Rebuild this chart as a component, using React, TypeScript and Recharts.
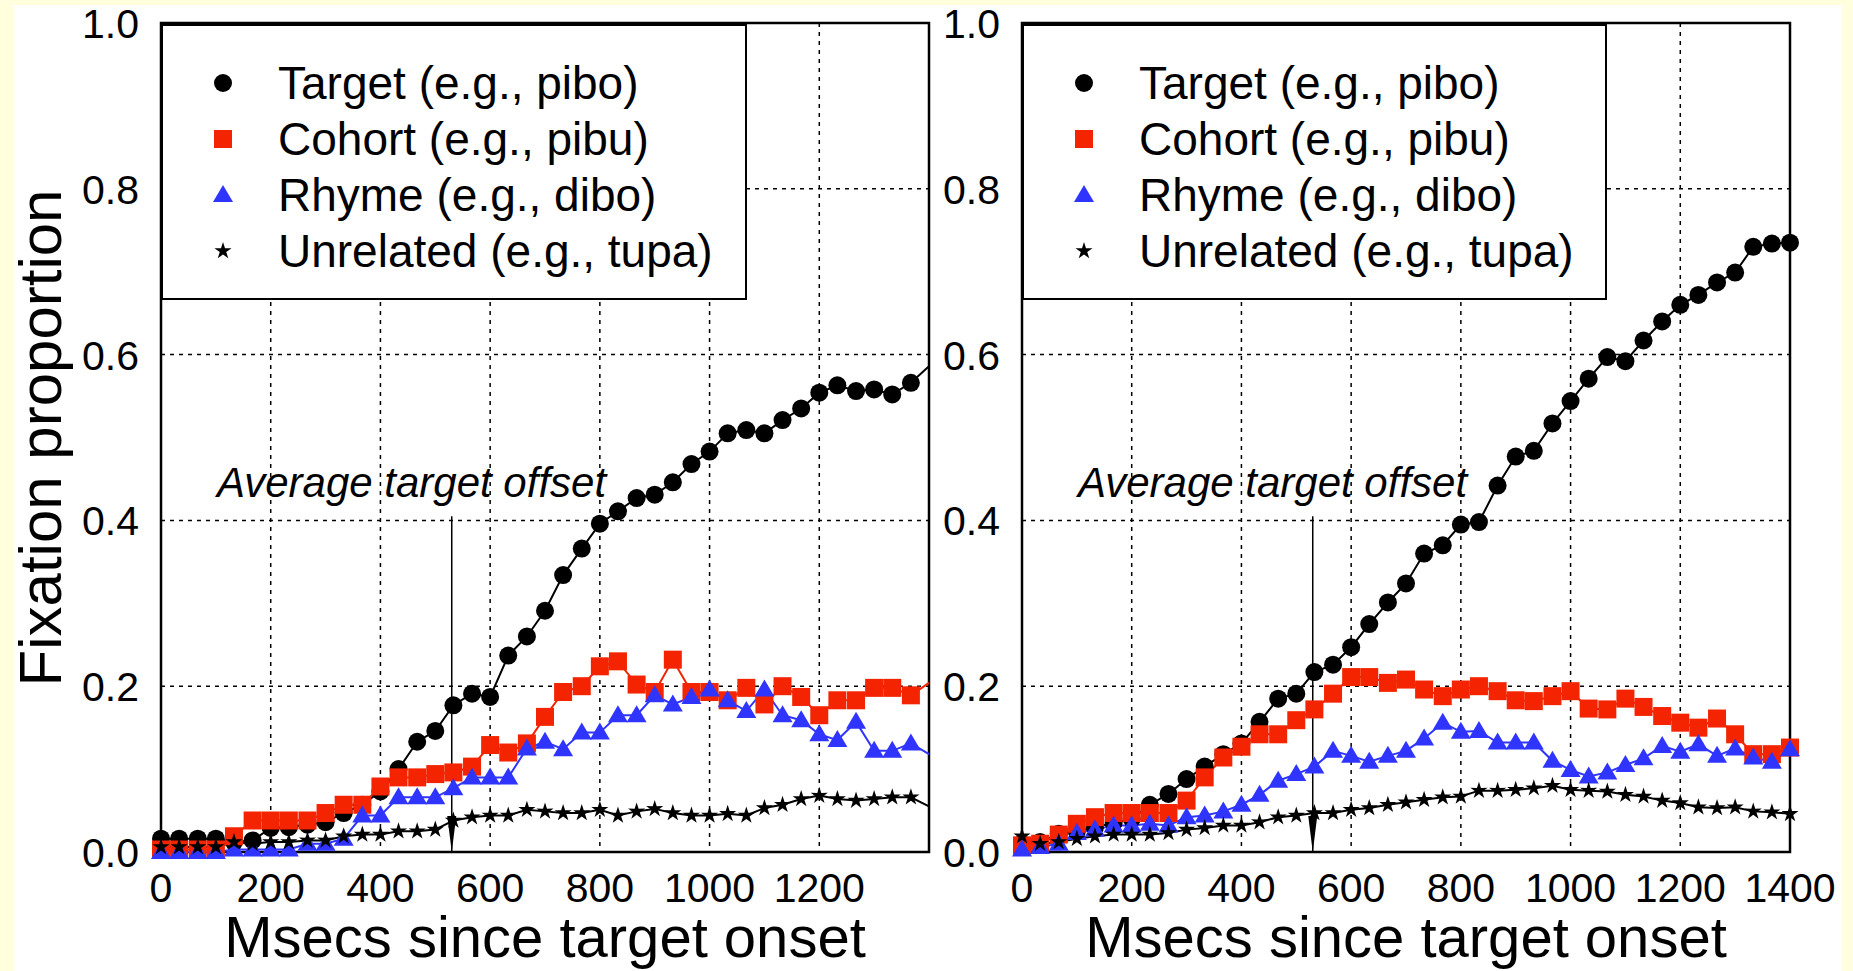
import React from 'react';
import {
  LineChart, Line, XAxis, YAxis, CartesianGrid, ReferenceArea, ReferenceLine, ReferenceDot
} from 'recharts';

// time bins (ms since target onset)
const TIMES = [0, 33, 67, 100, 133, 167, 200, 233, 267, 300, 333, 367, 400, 433, 467, 500, 533, 567, 600, 633, 667,
  700, 733, 767, 800, 833, 867, 900, 933, 967, 1000, 1033, 1067, 1100, 1133, 1167, 1200, 1233, 1267, 1300, 1333, 1367, 1400];

const LEFT_TARGET = [0.016, 0.016, 0.016, 0.016, 0.012, 0.014, 0.029, 0.030, 0.033, 0.036, 0.047, 0.057, 0.073, 0.100, 0.133,
  0.146, 0.177, 0.191, 0.187, 0.237, 0.260, 0.291, 0.334, 0.366, 0.396, 0.411, 0.427, 0.431, 0.446, 0.468, 0.483, 0.505,
  0.509, 0.505, 0.521, 0.535, 0.554, 0.563, 0.556, 0.558, 0.552, 0.566, 0.586];
const LEFT_COHORT = [0.003, 0.003, 0.003, 0.003, 0.019, 0.038, 0.038, 0.038, 0.038, 0.047, 0.057, 0.057, 0.079, 0.090, 0.090,
  0.094, 0.096, 0.103, 0.129, 0.120, 0.131, 0.163, 0.193, 0.200, 0.224, 0.230, 0.202, 0.193, 0.232, 0.193, 0.193, 0.183,
  0.198, 0.178, 0.200, 0.187, 0.165, 0.183, 0.183, 0.198, 0.198, 0.189, 0.204];
const LEFT_RHYME = [0, 0, 0, 0, 0.003, 0.003, 0.003, 0.003, 0.010, 0.010, 0.016, 0.044, 0.044, 0.066, 0.066, 0.066, 0.077,
  0.090, 0.090, 0.090, 0.125, 0.133, 0.124, 0.144, 0.144, 0.165, 0.165, 0.189, 0.178, 0.187, 0.196, 0.183, 0.170, 0.196,
  0.165, 0.159, 0.142, 0.135, 0.157, 0.122, 0.122, 0.131, 0.118];
const LEFT_UNRELATED = [0.006, 0.006, 0.006, 0.006, 0.012, 0.010, 0.012, 0.012, 0.014, 0.014, 0.019, 0.021, 0.021, 0.025,
  0.025, 0.027, 0.038, 0.042, 0.044, 0.044, 0.051, 0.049, 0.047, 0.047, 0.051, 0.044, 0.049, 0.052, 0.047, 0.044, 0.044,
  0.046, 0.044, 0.053, 0.057, 0.064, 0.068, 0.064, 0.062, 0.064, 0.066, 0.066, 0.055];

const RIGHT_TARGET = [0.010, 0.012, 0.022, 0.025, 0.030, 0.035, 0.040, 0.057, 0.070, 0.088, 0.103, 0.118, 0.131, 0.157, 0.185,
  0.191, 0.217, 0.226, 0.247, 0.275, 0.301, 0.324, 0.360, 0.370, 0.395, 0.398, 0.442, 0.477, 0.484, 0.517, 0.544, 0.571,
  0.597, 0.592, 0.617, 0.640, 0.660, 0.672, 0.687, 0.699, 0.730, 0.734, 0.735];
const RIGHT_COHORT = [0.008, 0.010, 0.021, 0.034, 0.042, 0.047, 0.047, 0.047, 0.047, 0.062, 0.090, 0.114, 0.127, 0.142, 0.142,
  0.159, 0.172, 0.191, 0.211, 0.211, 0.204, 0.208, 0.196, 0.188, 0.196, 0.200, 0.194, 0.183, 0.182, 0.188, 0.194, 0.173,
  0.172, 0.185, 0.175, 0.164, 0.156, 0.150, 0.161, 0.142, 0.118, 0.118, 0.126];
const RIGHT_RHYME = [0.003, 0.006, 0.010, 0.023, 0.027, 0.032, 0.032, 0.034, 0.032, 0.042, 0.044, 0.049, 0.057, 0.069, 0.086,
  0.094, 0.103, 0.122, 0.116, 0.109, 0.116, 0.122, 0.137, 0.156, 0.145, 0.146, 0.132, 0.132, 0.132, 0.110, 0.099, 0.091,
  0.096, 0.105, 0.113, 0.128, 0.121, 0.130, 0.116, 0.125, 0.114, 0.109, 0.124];
const RIGHT_UNRELATED = [0.019, 0.010, 0.012, 0.016, 0.019, 0.021, 0.021, 0.021, 0.023, 0.027, 0.029, 0.032, 0.032, 0.036,
  0.042, 0.044, 0.047, 0.047, 0.051, 0.053, 0.057, 0.060, 0.063, 0.066, 0.067, 0.074, 0.074, 0.075, 0.077, 0.080, 0.075,
  0.074, 0.073, 0.069, 0.067, 0.062, 0.059, 0.054, 0.053, 0.054, 0.049, 0.048, 0.046];

const LEFT_X_TICKS = [0, 200, 400, 600, 800, 1000, 1200];
const RIGHT_X_TICKS = [0, 200, 400, 600, 800, 1000, 1200, 1400];
const Y_TICKS = [0, 0.2, 0.4, 0.6, 0.8, 1.0];

const LEGEND_LABELS = ['Target (e.g., pibo)', 'Cohort (e.g., pibu)', 'Rhyme (e.g., dibo)', 'Unrelated (e.g., tupa)'];
const OFFSET_MS = 530;      // average target offset
const OFFSET_TOP = 0.405;
const OFFSET_TEXT_X = 102;
const OFFSET_TEXT_Y = 0.428;

const FONT = '"Liberation Sans", Arial, Helvetica, sans-serif';
const RED = '#f42400';
const BLUE = '#2f35ff';

const buildRows = (target: number[], cohort: number[], rhyme: number[], unrelated: number[]) =>
  TIMES.map((t, i) => ({ t, target: target[i], cohort: cohort[i], rhyme: rhyme[i], unrelated: unrelated[i] }));

const leftRows = buildRows(LEFT_TARGET, LEFT_COHORT, LEFT_RHYME, LEFT_UNRELATED);
const rightRows = buildRows(RIGHT_TARGET, RIGHT_COHORT, RIGHT_RHYME, RIGHT_UNRELATED);

// marker shapes
const starPath = (cx: number, cy: number, R: number, r: number) => {
  let d = '';
  for (let k = 0; k < 10; k++) {
    const rad = k % 2 === 0 ? R : r;
    const a = -Math.PI / 2 + (k * Math.PI) / 5;
    d += (k === 0 ? 'M' : 'L') + (cx + rad * Math.cos(a)).toFixed(2) + ',' + (cy + rad * Math.sin(a)).toFixed(2);
  }
  return d + 'Z';
};

const Marker = ({ kind, cx, cy }: { kind: string; cx: number; cy: number }) => {
  if (kind === 'circle') return <circle cx={cx} cy={cy} r={9} fill="#000" />;
  if (kind === 'square') return <rect x={cx - 9} y={cy - 9} width={18} height={18} fill={RED} />;
  if (kind === 'triangle') return <path d={`M${cx},${cy - 10} L${cx + 10},${cy + 7} L${cx - 10},${cy + 7} Z`} fill={BLUE} />;
  return <path d={starPath(cx, cy, 9, 3.4)} fill="#000" />;
};

const makeDot = (kind: string, hideEdge: boolean) => (p: any) => {
  if (p.cx == null || p.cy == null || (hideEdge && p.payload.t >= 1400)) return <g key={`d-${kind}-${p.index}`} />;
  return <g key={`d-${kind}-${p.index}`}><Marker kind={kind} cx={p.cx} cy={p.cy} /></g>;
};

const XTick = (props: any) => {
  const { x, y, payload } = props;
  return (
    <text x={x} y={y + 50} textAnchor="middle" fontSize={41} fontFamily={FONT} fill="#000">{payload.value}</text>
  );
};

const YTick = (props: any) => {
  const { x, y, payload } = props;
  return (
    <text x={x - 22} y={y + 15} textAnchor="end" fontSize={41} fontFamily={FONT} fill="#000">{payload.value.toFixed(1)}</text>
  );
};

const XTitle = () => (
  <text x={545} y={957} textAnchor="middle" fontSize={58} fontFamily={FONT} fill="#000">Msecs since target onset</text>
);

const YTitle = () => (
  <text x={61} y={438} transform="rotate(-90 61 438)" textAnchor="middle" fontSize={60} fontFamily={FONT} fill="#000">
    Fixation proportion
  </text>
);

const ArrowHead = (p: any) => (
  <path d={`M${p.cx},${p.cy} L${p.cx - 4.5},${p.cy - 36} L${p.cx + 4.5},${p.cy - 36} Z`} fill="#000" />
);

const OffsetText = (p: any) => (
  <text x={p.cx} y={p.cy} fontSize={42} fontStyle="italic" fontFamily={FONT} fill="#000">Average target offset</text>
);

const Legend = ({ left, width }: { left: number; width: number }) => {
  const kinds = ['circle', 'square', 'triangle', 'star'];
  return (
    <svg width={width} height={276} style={{ position: 'absolute', left, top: 24 }}>
      <rect x={1} y={1} width={width - 2} height={274} fill="#fff" stroke="#000" strokeWidth={2} />
      {LEGEND_LABELS.map((label, i) => (
        <g key={label}>
          <Marker kind={kinds[i]} cx={62} cy={59 + i * 56} />
          <text x={117} y={75 + i * 56} fontSize={46} fontFamily={FONT} fill="#000">{label}</text>
        </g>
      ))}
    </svg>
  );
};

const Panel = ({ rows, ticks, left, showYTitle }: { rows: any[]; ticks: number[]; left: number; showYTitle: boolean }) => (
  <div style={{ position: 'absolute', left, top: 0 }}>
    <LineChart width={990} height={971} data={rows} margin={{ top: 23, right: 61, bottom: 0, left: 0 }}>
      <CartesianGrid stroke="#000" strokeDasharray="4 5" strokeWidth={1.5} />
      <XAxis type="number" dataKey="t" domain={[0, 1400]} ticks={ticks} interval={0} height={119}
        axisLine={false} tickLine={false} tickSize={0} tickMargin={0} tick={<XTick />}
        label={<XTitle />} />
      <YAxis type="number" domain={[0, 1]} ticks={Y_TICKS} interval={0} width={161}
        axisLine={false} tickLine={false} tickSize={0} tickMargin={0} tick={<YTick />}
        label={showYTitle ? <YTitle /> : undefined} />
      <ReferenceArea x1={0} x2={1400} y1={0} y2={1} fill="none" fillOpacity={0} stroke="#000" strokeWidth={2.5} />
      <ReferenceLine segment={[{ x: OFFSET_MS, y: OFFSET_TOP }, { x: OFFSET_MS, y: 0 }]} stroke="#000" strokeWidth={1.5} />
      <ReferenceDot x={OFFSET_MS} y={0} shape={ArrowHead} />
      <ReferenceDot x={OFFSET_TEXT_X} y={OFFSET_TEXT_Y} shape={OffsetText} />
      <Line type="linear" dataKey="target" stroke="#000" strokeWidth={2} dot={makeDot('circle', showYTitle)} activeDot={false} isAnimationActive={false} />
      <Line type="linear" dataKey="cohort" stroke={RED} strokeWidth={2} dot={makeDot('square', showYTitle)} activeDot={false} isAnimationActive={false} />
      <Line type="linear" dataKey="rhyme" stroke={BLUE} strokeWidth={2} dot={makeDot('triangle', showYTitle)} activeDot={false} isAnimationActive={false} />
      <Line type="linear" dataKey="unrelated" stroke="#000" strokeWidth={2} dot={makeDot('star', showYTitle)} activeDot={false} isAnimationActive={false} />
    </LineChart>
  </div>
);

export default function App() {
  return (
    <div style={{ position: 'absolute', left: 0, top: 0, width: 1853, height: 971, background: '#ffffde', overflow: 'hidden' }}>
      <div style={{ position: 'absolute', left: 13, top: 5, width: 1829, height: 966, background: '#fff' }} />
      <Panel rows={leftRows} ticks={LEFT_X_TICKS} left={0} showYTitle={true} />
      <Panel rows={rightRows} ticks={RIGHT_X_TICKS} left={861} showYTitle={false} />
      <Legend left={161} width={586} />
      <Legend left={1022} width={585} />
    </div>
  );
}
